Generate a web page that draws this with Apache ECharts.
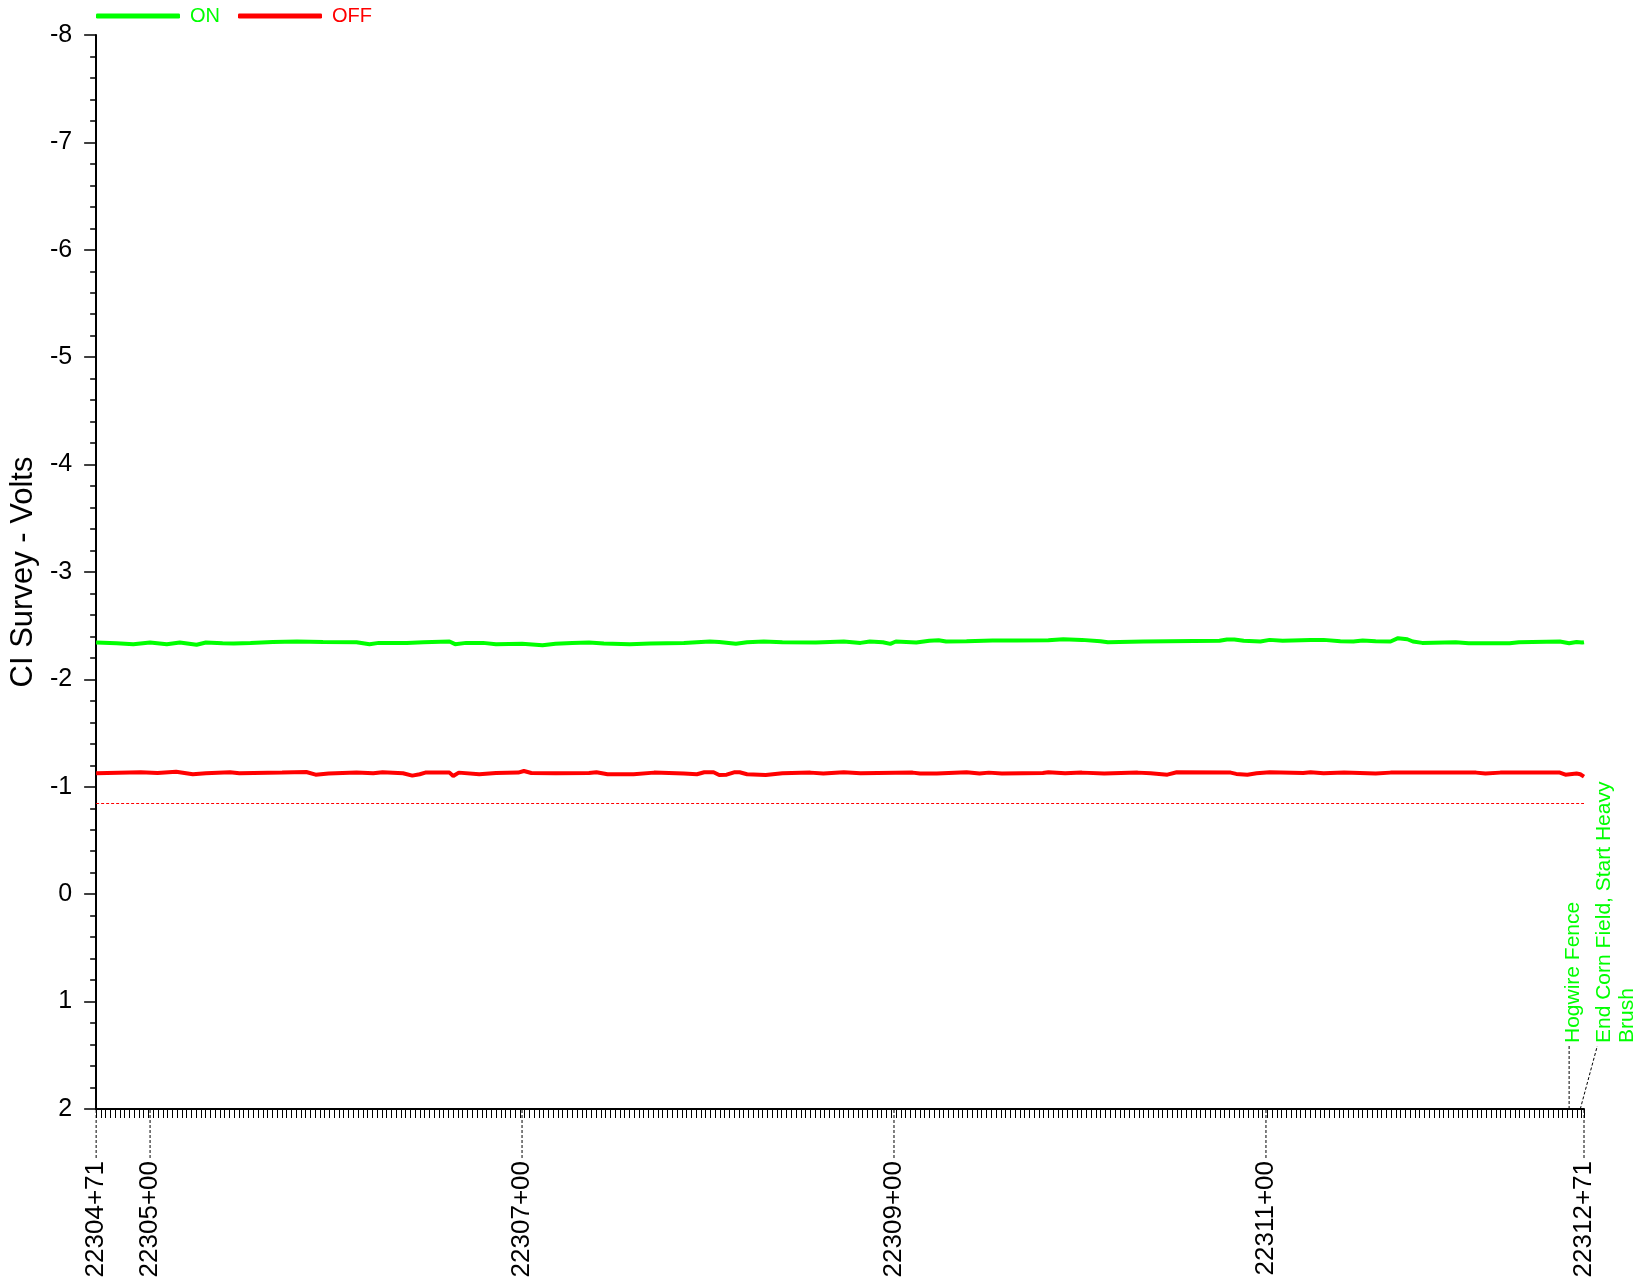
<!DOCTYPE html>
<html>
<head>
<meta charset="utf-8">
<script src="https://cdn.jsdelivr.net/npm/echarts@6/dist/echarts.min.js"></script>
<style>
html, body { margin: 0; padding: 0; background: #fff; }
#main { width: 1636px; height: 1280px; }
</style>
</head>
<body>
<div id="main"></div>
<script>
// station in feet (22304+71 -> 2230471), volts
var onStations = [2230471, 2230482, 2230491, 2230500, 2230509, 2230516, 2230525, 2230530, 2230539, 2230545,
	2230554, 2230566, 2230579, 2230593, 2230611, 2230618, 2230623, 2230638, 2230647, 2230661,
	2230664, 2230670, 2230679, 2230686, 2230700, 2230711, 2230718, 2230727, 2230736, 2230744,
	2230758, 2230769, 2230787, 2230801, 2230806, 2230815, 2230821, 2230830, 2230840, 2230858,
	2230873, 2230882, 2230887, 2230894, 2230898, 2230901, 2230912, 2230919, 2230924, 2230928,
	2230939, 2230953, 2230966, 2230983, 2230991, 2231001, 2231011, 2231015, 2231034, 2231075,
	2231079, 2231083, 2231088, 2231097, 2231102, 2231109, 2231124, 2231131, 2231140, 2231147,
	2231152, 2231159, 2231167, 2231171, 2231176, 2231179, 2231184, 2231202, 2231209, 2231231,
	2231236, 2231258, 2231263, 2231267, 2231270, 2231271];
var onVolts = [-2.343, -2.337, -2.328, -2.343, -2.328, -2.343, -2.322, -2.343, -2.337, -2.334,
	-2.340, -2.349, -2.353, -2.349, -2.346, -2.328, -2.340, -2.340, -2.346, -2.353,
	-2.328, -2.340, -2.340, -2.328, -2.331, -2.319, -2.331, -2.340, -2.343, -2.334,
	-2.328, -2.334, -2.340, -2.353, -2.349, -2.331, -2.346, -2.353, -2.346, -2.343,
	-2.353, -2.340, -2.353, -2.346, -2.331, -2.353, -2.343, -2.359, -2.365, -2.353,
	-2.356, -2.362, -2.362, -2.365, -2.374, -2.368, -2.356, -2.346, -2.353, -2.359,
	-2.371, -2.371, -2.359, -2.353, -2.368, -2.359, -2.368, -2.368, -2.356, -2.353,
	-2.362, -2.356, -2.353, -2.384, -2.374, -2.353, -2.340, -2.346, -2.337, -2.337,
	-2.346, -2.353, -2.337, -2.349, -2.343, -2.346];

var offStations = [2230471, 2230495, 2230504, 2230514, 2230523, 2230530, 2230543, 2230548, 2230571, 2230584,
	2230589, 2230596, 2230611, 2230620, 2230625, 2230636, 2230641, 2230645, 2230648, 2230661,
	2230663, 2230666, 2230677, 2230686, 2230698, 2230701, 2230705, 2230718, 2230736, 2230740,
	2230746, 2230760, 2230771, 2230787, 2230794, 2230798, 2230803, 2230806, 2230810, 2230814,
	2230817, 2230821, 2230831, 2230840, 2230855, 2230862, 2230873, 2230882, 2230910, 2230914,
	2230923, 2230939, 2230946, 2230951, 2230958, 2230980, 2230983, 2230992, 2231001, 2231013,
	2231031, 2231038, 2231047, 2231052, 2231081, 2231084, 2231090, 2231095, 2231102, 2231120,
	2231124, 2231131, 2231142, 2231159, 2231167, 2231195, 2231213, 2231218, 2231226, 2231258,
	2231261, 2231267, 2231269, 2231271];
var offVolts = [-1.126, -1.135, -1.129, -1.141, -1.117, -1.126, -1.135, -1.126, -1.132, -1.138,
	-1.113, -1.123, -1.132, -1.126, -1.135, -1.126, -1.104, -1.117, -1.132, -1.132,
	-1.101, -1.132, -1.117, -1.129, -1.132, -1.147, -1.129, -1.126, -1.129, -1.135,
	-1.117, -1.117, -1.132, -1.123, -1.117, -1.135, -1.135, -1.110, -1.113, -1.135,
	-1.135, -1.117, -1.110, -1.126, -1.132, -1.123, -1.135, -1.126, -1.132, -1.123,
	-1.123, -1.135, -1.123, -1.132, -1.123, -1.129, -1.135, -1.126, -1.132, -1.123,
	-1.132, -1.126, -1.113, -1.135, -1.132, -1.120, -1.113, -1.126, -1.135, -1.129,
	-1.135, -1.126, -1.132, -1.123, -1.132, -1.132, -1.132, -1.123, -1.132, -1.132,
	-1.113, -1.123, -1.117, -1.095];

var criterion = -0.85;

var stationTicks = [2230471, 2230500, 2230700, 2230900, 2231100, 2231271];
var stationLabels = ['22304+71', '22305+00', '22307+00', '22309+00', '22311+00', '22312+71'];

var noteStations = [2231263, 2231269];
var noteLabels = ['Hogwire Fence', 'End Corn Field, Start Heavy\nBrush'];

var yMin = -8, yMax = 2;

// label placement of the comments (px from the point on the axis)
var noteTextDx = [5, 24];
var noteLeaderDx = [0, 17];

var GREEN = '#00ff00';
var RED = '#ff0000';
var FONT = '"Liberation Sans", Arial, sans-serif';

function pairs(xs, ys) {
	var out = [];
	for (var i = 0; i < xs.length; i++) {
		out.push([xs[i], ys[i]]);
	}
	return out;
}

var myChart = echarts.init(document.getElementById('main'));

var option = {
	animation: false,
	textStyle: { fontFamily: FONT },
	grid: { left: 91, right: 52, top: 35, bottom: 171, containLabel: false },
	legend: {
		left: 91,
		top: 1,
		itemWidth: 84,
		itemHeight: 5,
		itemGap: 18,
		icon: 'roundRect',
		textStyle: { fontSize: 20, fontFamily: FONT, padding: [0, 0, 0, 5] },
		data: [
			{ name: 'ON', textStyle: { color: GREEN } },
			{ name: 'OFF', textStyle: { color: RED } }
		]
	},
	xAxis: [{
		type: 'value',
		min: stationTicks[0],
		max: stationTicks[stationTicks.length - 1],
		axisLine: { show: true, onZero: false, lineStyle: { color: '#000', width: 2 } },
		axisTick: { show: false },
		axisLabel: { show: false },
		splitLine: { show: false }
	}, {
		// small ticks along the station axis
		type: 'value',
		min: 0,
		max: 800,
		interval: 2.56,
		position: 'bottom',
		axisLine: { show: false, onZero: false },
		axisTick: { show: true, length: 9, lineStyle: { color: '#000', width: 1 } },
		axisLabel: { show: false },
		splitLine: { show: false }
	}],
	yAxis: {
		type: 'value',
		inverse: true,
		min: yMin,
		max: yMax,
		interval: 1,
		name: 'CI Survey - Volts',
		nameLocation: 'middle',
		nameGap: 54,
		nameTextStyle: { fontSize: 31, color: '#000', fontFamily: FONT },
		axisLine: { show: true, onZero: false, lineStyle: { color: '#000', width: 2 } },
		axisTick: { show: true, length: 12, lineStyle: { color: '#000', width: 1.5 } },
		minorTick: { show: true, splitNumber: 5, length: 6, lineStyle: { color: '#000', width: 1.5 } },
		axisLabel: { fontSize: 25, color: '#000', margin: 24, fontFamily: FONT },
		splitLine: { show: false }
	},
	series: [{
		name: 'ON',
		type: 'line',
		color: GREEN,
		showSymbol: false,
		symbol: 'none',
		lineStyle: { width: 4, color: GREEN },
		data: pairs(onStations, onVolts),
		z: 3
	}, {
		name: 'OFF',
		type: 'line',
		color: RED,
		showSymbol: false,
		symbol: 'none',
		lineStyle: { width: 4, color: RED },
		data: pairs(offStations, offVolts),
		markLine: {
			silent: true,
			symbol: 'none',
			label: { show: false },
			lineStyle: { color: RED, width: 1, type: [3, 2] },
			data: [{ yAxis: criterion }]
		},
		z: 3
	}, {
		// station labels under the axis
		type: 'custom',
		clip: false,
		silent: true,
		data: stationTicks.map(function(s) { return [s, yMax]; }),
		renderItem: function(params, api) {
			var p = api.coord([api.value(0), api.value(1)]);
			return {
				type: 'group',
				children: [{
					type: 'line',
					shape: { x1: p[0], y1: p[1] + 1, x2: p[0], y2: p[1] + 51 },
					style: { stroke: '#000', lineWidth: 1, lineDash: [3, 2] }
				}, {
					type: 'text',
					x: p[0],
					y: p[1] + 52,
					rotation: Math.PI / 2,
					style: {
						text: stationLabels[params.dataIndex],
						fill: '#000',
						fontSize: 26,
						fontFamily: FONT,
						align: 'right',
						verticalAlign: 'middle'
					}
				}]
			};
		}
	}, {
		// comments
		type: 'custom',
		clip: false,
		silent: true,
		data: noteStations.map(function(s) { return [s, yMax]; }),
		renderItem: function(params, api) {
			var i = params.dataIndex;
			var p = api.coord([api.value(0), api.value(1)]);
			return {
				type: 'group',
				children: [{
					type: 'line',
					shape: { x1: p[0], y1: p[1], x2: p[0] + noteLeaderDx[i], y2: p[1] - 63 },
					style: { stroke: '#000', lineWidth: 1, lineDash: [3, 2] }
				}, {
					type: 'text',
					x: p[0] + noteTextDx[i] - 12,
					y: p[1] - 66,
					rotation: Math.PI / 2,
					style: {
						text: noteLabels[i],
						fill: GREEN,
						fontSize: 21,
						lineHeight: 23,
						fontFamily: FONT,
						align: 'left',
						verticalAlign: 'top'
					}
				}]
			};
		}
	}]
};

myChart.setOption(option);
</script>
</body>
</html>
